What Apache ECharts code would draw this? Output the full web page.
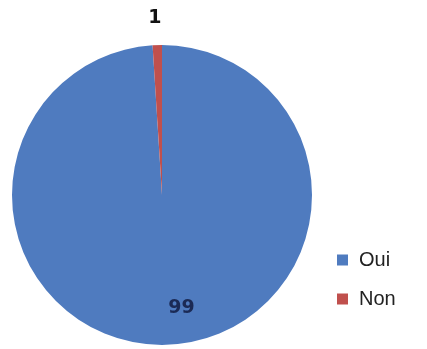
<!DOCTYPE html>
<html>
<head>
<meta charset="utf-8">
<script src="https://cdn.jsdelivr.net/npm/echarts@6/dist/echarts.min.js"></script>
<style>html,body{margin:0;padding:0;background:#fff;}#c{width:427px;height:349px;}</style>
</head>
<body>
<div id="c"></div>
<script>
const categories = ["Oui", "Non"];
const values = [99, 1];
const colors = ["#4f7bbf", "#c0504d"];

const chart = echarts.init(document.getElementById('c'), null, {renderer: 'canvas'});
chart.setOption({
  animation: false,
  backgroundColor: '#ffffff',
  legend: {
    orient: 'vertical',
    left: 332,
    top: 245,
    icon: 'rect',
    itemWidth: 11,
    itemHeight: 11,
    itemGap: 19,
    textStyle: {fontFamily: 'Liberation Sans', fontSize: 20, color: '#222', padding: [0, 0, 0, 6]},
    data: categories
  },
  series: [{
    type: 'pie',
    center: [162, 195],
    radius: 150,
    startAngle: 90,
    clockwise: true,
    avoidLabelOverlap: false,
    label: {fontFamily: 'DejaVu Sans', fontWeight: 'bold', fontSize: 19},
    labelLine: {show: false},
    data: categories.map((c, i) => {
      const item = {name: c, value: values[i], itemStyle: {color: colors[i]}};
      if (i === 0) {
        item.label = {show: true, position: 'inside', color: '#1b2a55', offset: [17, 35], formatter: '{c}'};
      } else {
        item.label = {show: true, position: 'outside', color: '#111', offset: [10, 0], formatter: '{c}'};
        item.labelLine = {show: false, length: 27, length2: 0};
      }
      return item;
    })
  }]
});
</script>
</body>
</html>
